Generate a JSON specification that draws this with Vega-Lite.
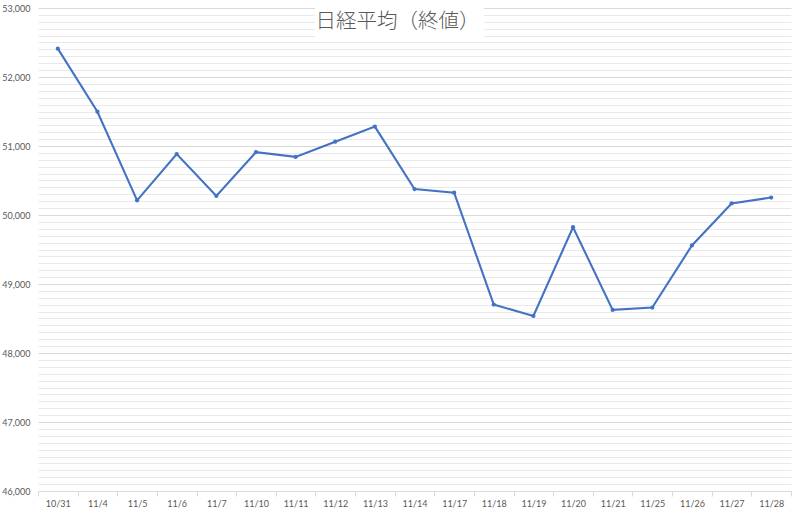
{
  "$schema": "https://vega.github.io/schema/vega-lite/v6.json",
  "width": 753,
  "height": 483,
  "autosize": {"type": "none"},
  "padding": {"left": 38, "top": 8, "right": 9, "bottom": 22},
  "background": "white",
  "title": {
    "text": "日経平均（終値）",
    "font": "Noto Sans CJK JP",
    "fontSize": 20.5,
    "fontWeight": 300,
    "color": "#595959",
    "anchor": "middle",
    "offset": -38,
    "dx": -17,
    "baseline": "middle"
  },
  "data": {
    "values": [
      {"date": "10/31", "close": 52411},
      {"date": "11/4", "close": 51497},
      {"date": "11/5", "close": 50212},
      {"date": "11/6", "close": 50883},
      {"date": "11/7", "close": 50276},
      {"date": "11/10", "close": 50911},
      {"date": "11/11", "close": 50842},
      {"date": "11/12", "close": 51063},
      {"date": "11/13", "close": 51281},
      {"date": "11/14", "close": 50376},
      {"date": "11/17", "close": 50323},
      {"date": "11/18", "close": 48702},
      {"date": "11/19", "close": 48537},
      {"date": "11/20", "close": 49823},
      {"date": "11/21", "close": 48625},
      {"date": "11/25", "close": 48659},
      {"date": "11/26", "close": 49559},
      {"date": "11/27", "close": 50167},
      {"date": "11/28", "close": 50253}
    ]
  },
  "encoding": {
    "x": {
      "field": "date",
      "type": "ordinal",
      "sort": null,
      "bandPosition": 0.5,
      "scale": {
        "type": "band",
        "paddingInner": 0,
        "paddingOuter": 0,
        "domain": ["10/31","11/4","11/5","11/6","11/7","11/10","11/11","11/12","11/13","11/14","11/17","11/18","11/19","11/20","11/21","11/25","11/26","11/27","11/28"]
      },
      "axis": {
        "title": null,
        "labelAngle": 0,
        "labelFont": "Lato",
        "labelFontSize": 9,
        "labelColor": "#595959",
        "labelPadding": 3,
        "domainColor": "#d9d9d9",
        "tickColor": "#d9d9d9",
        "tickSize": 5,
        "tickBand": "extent",
        "grid": false
      }
    },
    "y": {
      "field": "close",
      "type": "quantitative",
      "scale": {"domain": [46000, 53000], "nice": false, "zero": false},
      "axis": {
        "title": null,
        "values": [46000,46100,46200,46300,46400,46500,46600,46700,46800,46900,47000,47100,47200,47300,47400,47500,47600,47700,47800,47900,48000,48100,48200,48300,48400,48500,48600,48700,48800,48900,49000,49100,49200,49300,49400,49500,49600,49700,49800,49900,50000,50100,50200,50300,50400,50500,50600,50700,50800,50900,51000,51100,51200,51300,51400,51500,51600,51700,51800,51900,52000,52100,52200,52300,52400,52500,52600,52700,52800,52900,53000],
        "labelExpr": "datum.value % 1000 === 0 ? format(datum.value, ',') : ''",
        "labelOverlap": false,
        "labelFlush": false,
        "labelFont": "Lato",
        "labelFontSize": 9,
        "labelColor": "#595959",
        "labelPadding": 8,
        "ticks": false,
        "tickSize": 0,
        "domain": false,
        "grid": true,
        "gridColor": {"condition": {"test": "datum.value % 1000 === 0", "value": "#d9d9d9"}, "value": "#e6e6e6"},
        "gridWidth": {"condition": {"test": "datum.value % 1000 === 0", "value": 1}, "value": 0.9}
      }
    }
  },
  "layer": [
    {
      "mark": {"type": "rect", "fill": "white", "xOffset": 0, "x2Offset": 10, "y2Offset": 3},
      "encoding": {
        "x": {"datum": "11/12", "type": "ordinal", "bandPosition": 0},
        "x2": {"datum": "11/17", "bandPosition": 1},
        "y": {"datum": 53000, "type": "quantitative"},
        "y2": {"datum": 52600}
      }
    },
    {
      "mark": {"type": "line", "color": "#4472C4", "strokeWidth": 2.1}
    },
    {
      "mark": {"type": "point", "filled": true, "color": "#4472C4", "size": 18, "opacity": 1}
    }
  ],
  "config": {
    "view": {"stroke": null}
  }
}
